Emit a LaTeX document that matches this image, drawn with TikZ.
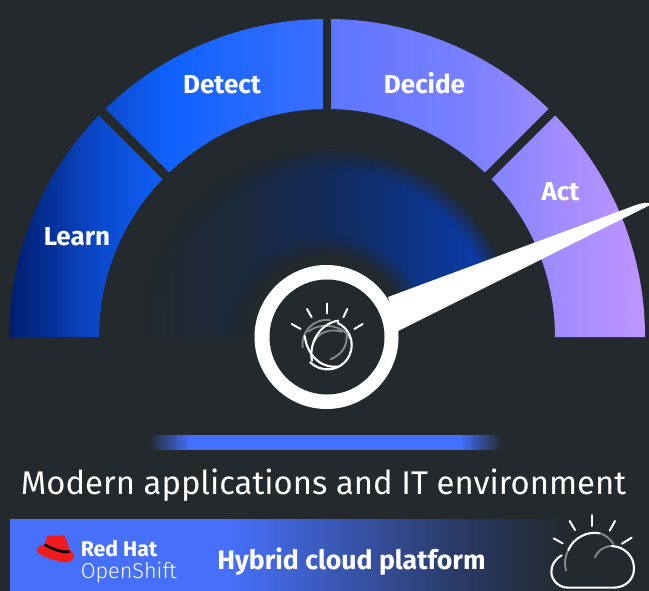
\documentclass[tikz,border=0pt]{standalone}
\usepackage{fontspec}
\usetikzlibrary{fadings}
\setmainfont{Fira Sans}
\newfontfamily\lightfont{Fira Sans Light}
\definecolor{bgc}{HTML}{23292D}
\definecolor{g0}{HTML}{001D6C}\definecolor{g1}{HTML}{0B45C4}\definecolor{g2}{HTML}{0F62FE}
\definecolor{g3}{HTML}{3A6EFF}\definecolor{g4}{HTML}{5F76FF}\definecolor{g5}{HTML}{7A80FF}
\definecolor{g6}{HTML}{A08BFF}\definecolor{g7}{HTML}{BE95FF}
\definecolor{w1}{HTML}{1C2A3C}\definecolor{w2}{HTML}{132B5A}\definecolor{w3}{HTML}{0A3AA3}
\definecolor{barc}{HTML}{4370FF}
\definecolor{b1}{HTML}{4670FA}\definecolor{b2}{HTML}{36509F}\definecolor{b3}{HTML}{283860}
\definecolor{hatred}{HTML}{EE1C1C}
\pgfdeclarehorizontalshading{arcsh}{100bp}{color(0bp)=(g0);color(25bp)=(g0);color(31.35bp)=(g1);color(37.65bp)=(g2);color(49.45bp)=(g3);color(50.6bp)=(g4);color(61.25bp)=(g5);color(67.9bp)=(g6);color(75bp)=(g7);color(100bp)=(g7)}
\pgfdeclarehorizontalshading{glowsh}{100bp}{color(0bp)=(bgc);color(25bp)=(bgc);color(38.5bp)=(w1);color(50.5bp)=(w2);color(69bp)=(w3);color(100bp)=(w3)}
\pgfdeclarehorizontalshading{barsh}{100bp}{color(0bp)=(bgc);color(25bp)=(bgc);color(31bp)=(barc);color(69bp)=(barc);color(75bp)=(bgc);color(100bp)=(bgc)}
\pgfdeclarehorizontalshading{bandsh}{100bp}{color(0bp)=(b1);color(43.5bp)=(b1);color(55.25bp)=(b2);color(63.75bp)=(b3);color(72.5bp)=(bgc);color(100bp)=(bgc)}
\pgfdeclareradialshading{ringsh}{\pgfpointorigin}{color(0bp)=(pgftransparent!100);color(10.5bp)=(pgftransparent!100);color(13.5bp)=(pgftransparent!0);color(22bp)=(pgftransparent!0);color(25bp)=(pgftransparent!100);color(100bp)=(pgftransparent!100)}
\pgfdeclarefading{ringfade}{\pgfuseshading{ringsh}}
\tikzset{
  gaptie/.style={draw=bgc,line width=6.75pt},
  gaugelabel/.style={text=white,font=\bfseries\fontsize{19.5}{22}\selectfont,inner sep=0pt,anchor=base},
  ray/.style={draw=white,line width=1.5pt,line cap=round},
  strand/.style={draw=white,line width=1.6pt,line cap=round},
  faint/.style={draw=white!45!bgc,line width=1.4pt,line cap=round},
  cloudline/.style={draw=white,line width=1.6pt,line cap=round},
  cloudfaint/.style={draw=white!45!bgc,line width=1.4pt,line cap=round},
}
\begin{document}
\begin{tikzpicture}[x=0.75pt,y=-0.75pt]
\useasboundingbox (0,0) rectangle (649,591);
\fill[bgc] (0,0) rectangle (649,591);
% gauge arc
\shade[shading=arcsh] (9,337) arc[start angle=180,end angle=360,radius=318] -- (555,337) arc[start angle=360,end angle=180,radius=228] -- cycle;
\coordinate (C) at (327,337);
\draw[bgc,line width=6pt] (327,0) -- (327,115);
\draw[gaptie] (327,337) ++(-135:218) -- ++(-135:110);
\draw[gaptie] (327,337) ++(-45:218) -- ++(-45:110);
% inner glow, cut off along the upper edge of the needle
\begin{scope}
\clip (100,100) -- (649,100) -- (636,205) -- (388,297) -- (388,337) -- (100,337) -- cycle;
\path[shading=glowsh,path fading=ringfade,fit fading=true] (327,337) circle[radius=190];
\end{scope}
% needle
\fill[white] (388,297) -- (636,205) .. controls (645,202) and (652,202) .. (650,205) -- (398,331) -- cycle;
% hub
\fill[white] (326.5,337) circle[radius=72];
\fill[bgc] (327,337) circle[radius=57.5];
% bulb logo
\begin{scope}[shift={(230,260)},x=0.25pt,y=-0.25pt]
\draw[ray] (291,130) -- (291,160);
\draw[ray] (231,147) -- (245,172);
\draw[ray] (352,147) -- (340,172);
\draw[ray] (185,192) -- (212,207);
\draw[ray] (398,192) -- (373,207);
\draw[faint] (218,262) .. controls (212,215) and (250,175) .. (300,180);
\draw[faint] (235,215) .. controls (270,185) and (340,195) .. (360,235);
\draw[faint] (302,298) .. controls (330,285) and (352,265) .. (350,225);
\draw[faint] (250,250) .. controls (265,215) and (300,205) .. (335,215);
\draw[strand] (323,189) arc[start angle=-65,end angle=135,radius=73];
\draw[strand] (246,302) .. controls (235,250) and (270,190) .. (325,182);
\draw[strand] (224,228) .. controls (232,285) and (270,325) .. (325,320);
\end{scope}
% glow bar
\shade[shading=barsh] (148,435.5) rectangle (502,449);
% title
\node[text=white,font=\fontsize{24.6}{30}\selectfont,inner sep=0pt,anchor=base] (title) at (323.5,494.5) {Modern applications and IT environment};
% band
\shade[shading=bandsh] (10,519) rectangle (600,591);
% labels
\node[gaugelabel] (learn) at (77,245.7) {Learn};
\node[gaugelabel] (detect) at (222,94) {Detect};
\node[gaugelabel] (decide) at (424.5,94) {Decide};
\node[gaugelabel] (act) at (560.5,200.7) {Act};
% red hat
\begin{scope}[shift={(0,510)},x=0.25pt,y=-0.25pt]
\fill[hatred] (145,78) .. controls (160,72) and (175,82) .. (188,74) .. controls (198,78) and (205,105) .. (208,118) .. controls (218,125) and (224,135) .. (220,145) .. controls (215,160) and (190,160) .. (170,152) .. controls (145,145) and (112,135) .. (110,120) .. controls (110,110) and (125,105) .. (135,103) -- (138,90) .. controls (139,84) and (141,80) .. (145,78) -- cycle;
\draw[black,line width=2pt] (134,104) .. controls (155,116) and (185,128) .. (209,125);
\end{scope}
\node[anchor=base west,text=white,font=\bfseries\fontsize{16}{18}\selectfont,inner sep=0pt] (redhat) at (80.5,556) {Red Hat};
\node[anchor=base west,text=white,font=\lightfont\fontsize{16.2}{18}\selectfont,inner sep=0pt] (openshift) at (80.5,578) {OpenShift};
\node[anchor=base west,text=white,font=\bfseries\fontsize{20}{23}\selectfont,inner sep=0pt] (hybrid) at (217,569.5) {Hybrid cloud platform};
% cloud logo
\begin{scope}[shift={(480,500)},x=0.25pt,y=-0.25pt]
\draw[ray] (337,45) -- (337,78);
\draw[ray] (269,63) -- (285,90);
\draw[ray] (405,63) -- (389,92);
\draw[ray] (221,115) -- (248,130);
\draw[ray] (455,113) -- (426,131);
\draw[cloudfaint] (258,212) .. controls (252,190) and (255,170) .. (265,150);
\draw[cloudline] (265,150) .. controls (280,115) and (320,92) .. (360,100);
\draw[cloudfaint] (360,100) .. controls (378,105) and (392,118) .. (400,132);
\draw[cloudfaint] (345,172) .. controls (355,150) and (370,140) .. (395,138);
\draw[cloudline] (395,138) .. controls (435,140) and (462,170) .. (462,205) .. controls (462,240) and (435,263) .. (400,263) -- (265,263) .. controls (235,263) and (214,240) .. (214,215) .. controls (214,195) and (225,178) .. (245,166);
\end{scope}
\end{tikzpicture}
\end{document}
